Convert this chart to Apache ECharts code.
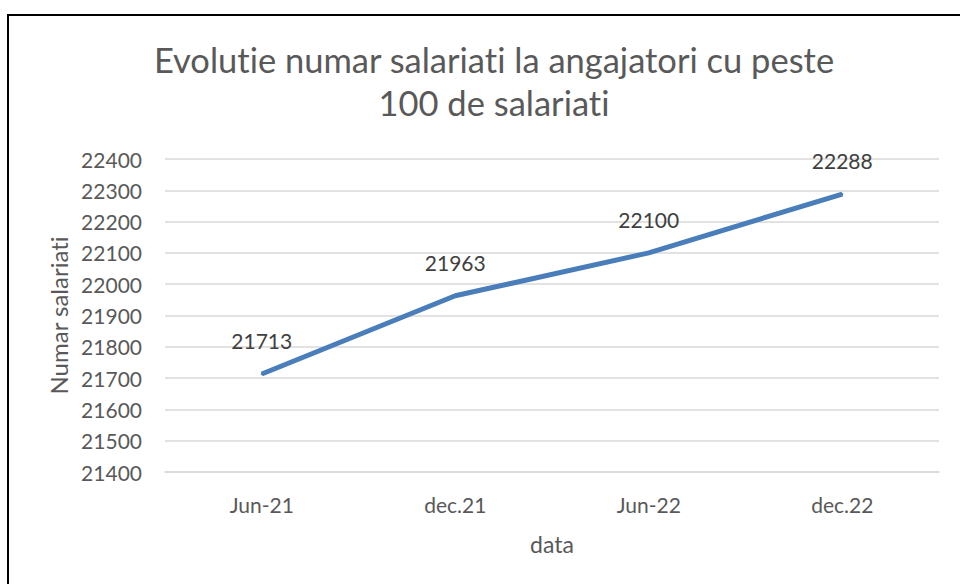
<!DOCTYPE html>
<html>
<head>
<meta charset="utf-8">
<script src="https://cdn.jsdelivr.net/npm/echarts@6/dist/echarts.min.js"></script>
<style>
  html, body { margin: 0; padding: 0; background: #fff; }
  #main { width: 960px; height: 584px; font-variant-ligatures: none; }
</style>
</head>
<body>
<div id="main"></div>
<script>
// date si valori
const categories = ['Jun-21', 'dec.21', 'Jun-22', 'dec.22'];
const salariati = [21713, 21963, 22100, 22288];
const yMin = 21400;
const yMax = 22400;
const yStep = 100;

const FONT = 'Lato';
const chart = echarts.init(document.getElementById('main'), null, { renderer: 'svg' });

const option = {
  backgroundColor: '#ffffff',
  animation: false,
  title: {
    text: 'Evolutie numar salariati la angajatori cu peste\n100 de salariati',
    left: 489,
    top: 33,
    textAlign: 'center',
    textStyle: {
      fontFamily: FONT,
      fontSize: 34.5,
      fontWeight: 'normal',
      color: '#595959',
      lineHeight: 43
    }
  },
  graphic: [{
    type: 'rect',
    shape: { x: 8, y: 15, width: 1000, height: 1000 },
    style: { fill: 'none', stroke: '#000', lineWidth: 2 },
    silent: true
  }],
  grid: { left: 165, right: 21, top: 159, bottom: 112 },
  xAxis: {
    type: 'category',
    data: categories,
    boundaryGap: true,
    name: 'data',
    nameLocation: 'middle',
    nameGap: 60,
    nameTextStyle: { fontFamily: FONT, fontSize: 23, color: '#595959' },
    axisLine: { lineStyle: { color: '#d9d9d9', width: 1.5 } },
    axisTick: { show: false },
    axisLabel: { fontFamily: FONT, fontSize: 21, color: '#595959', margin: 22 }
  },
  yAxis: {
    type: 'value',
    min: yMin,
    max: yMax,
    interval: yStep,
    name: 'Numar salariati',
    nameLocation: 'middle',
    nameGap: 93,
    nameTextStyle: { fontFamily: FONT, fontSize: 24, color: '#595959' },
    axisLine: { show: false },
    axisTick: { show: false },
    axisLabel: {
      fontFamily: FONT, fontSize: 21, color: '#595959', margin: 23,
      formatter: v => String(v)
    },
    splitLine: { lineStyle: { color: '#d9d9d9', width: 1.5 } }
  },
  series: [{
    type: 'line',
    data: salariati,
    symbol: 'circle',
    symbolSize: 2,
    lineStyle: { color: '#4a7ebb', width: 5 },
    itemStyle: { color: '#4a7ebb' },
    label: {
      show: true,
      position: 'top',
      distance: 22,
      fontFamily: FONT,
      fontSize: 21,
      color: '#404040',
      formatter: p => String(p.value)
    }
  }]
};

chart.setOption(option);
</script>
</body>
</html>
